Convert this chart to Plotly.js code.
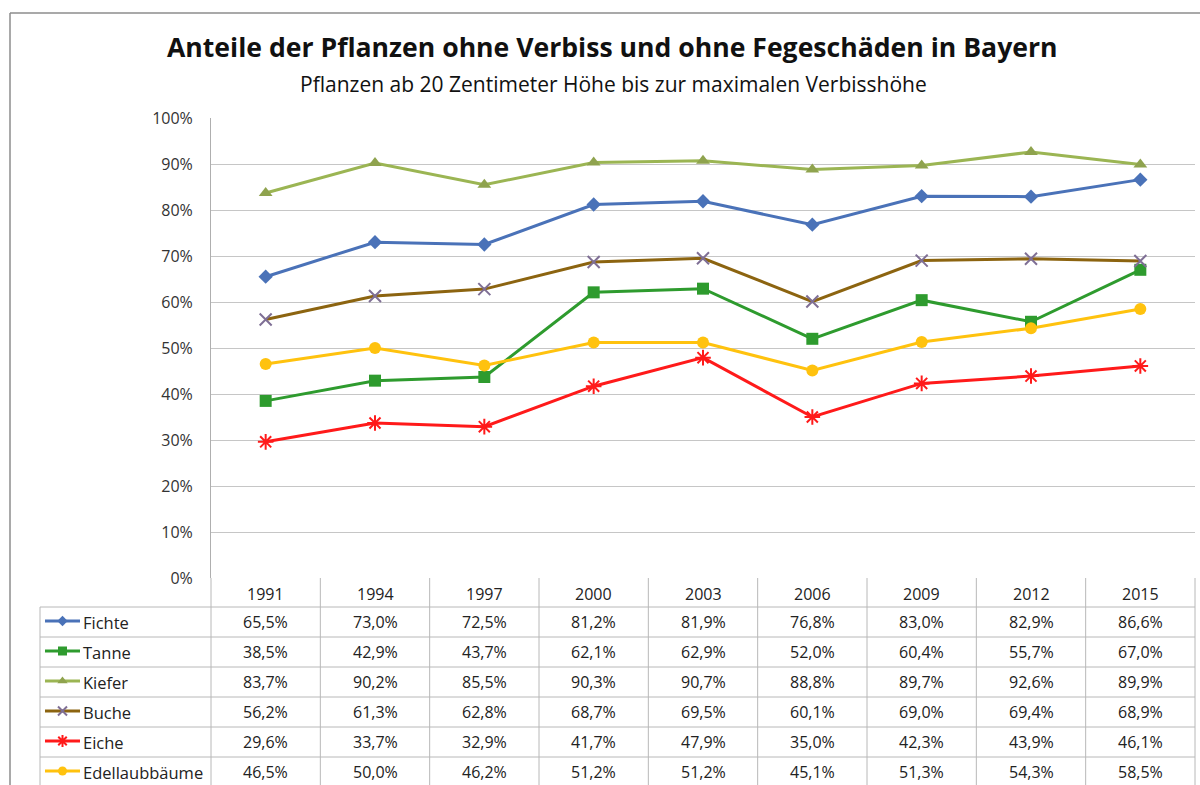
<!DOCTYPE html>
<html>
<head>
<meta charset="utf-8">
<script src="https://cdn.plot.ly/plotly-3.0.1.min.js"></script>
<style>html,body{margin:0;padding:0;background:#fff;}#chart{width:1200px;height:785px;}</style>
</head>
<body>
<div id="chart"></div>
<script>
const years = ['1991','1994','1997','2000','2003','2006','2009','2012','2015'];
const seriesNames = ['Fichte','Tanne','Kiefer','Buche','Eiche','Edellaubbäume'];
const fichte = [65.5, 73.0, 72.5, 81.2, 81.9, 76.8, 83.0, 82.9, 86.6];
const tanne  = [38.5, 42.9, 43.7, 62.1, 62.9, 52.0, 60.4, 55.7, 67.0];
const kiefer = [83.7, 90.2, 85.5, 90.3, 90.7, 88.8, 89.7, 92.6, 89.9];
const buche  = [56.2, 61.3, 62.8, 68.7, 69.5, 60.1, 69.0, 69.4, 68.9];
const eiche  = [29.6, 33.7, 32.9, 41.7, 47.9, 35.0, 42.3, 43.9, 46.1];
const edel   = [46.5, 50.0, 46.2, 51.2, 51.2, 45.1, 51.3, 54.3, 58.5];
const seriesValues = [fichte, tanne, kiefer, buche, eiche, edel];
const yTicks = [0,10,20,30,40,50,60,70,80,90,100];
const yTickLabels = ['0%','10%','20%','30%','40%','50%','60%','70%','80%','90%','100%'];

const styles = [
  {line:'#4A72B8', marker:'#4A72B8', symbol:'diamond', size:11},
  {line:'#2E9B2E', marker:'#2E9B2E', symbol:'square', size:12},
  {line:'#9BB553', marker:'#8FA34E', symbol:'triangle-up', size:12},
  {line:'#8C6410', marker:'#7F6F95', symbol:'x-thin-open', size:12, mline:2},
  {line:'#FF1A1A', marker:'#FF1A1A', symbol:'asterisk-open', size:13, mline:2},
  {line:'#FFC20E', marker:'#FFC20E', symbol:'circle', size:12}
];

// geometry (pixels)
const W = 1200, H = 785;
const plotL = 211, plotR = 1195, plotT = 118, plotB = 578;
const tableL = 40, rowH = 30, headerB = 607;
const colW = (plotR - plotL) / years.length;
const FONT = 'Open Sans';

const fmt = v => v.toFixed(1).replace('.', ',') + '%';

const traces = [];
seriesValues.forEach((vals, i) => {
  const s = styles[i];
  traces.push({
    type:'scatter', mode:'lines+markers', x: years, y: vals, name: seriesNames[i],
    xaxis:'x', yaxis:'y', cliponaxis:false,
    line:{color:s.line, width:3},
    marker:{symbol:s.symbol, size:s.size, color:s.marker, line:{color:s.marker, width:s.mline||0}},
    showlegend:false, hoverinfo:'skip'
  });
});

// legend samples in the table (full-page pixel axes)
seriesNames.forEach((n, i) => {
  const s = styles[i];
  const yc = headerB + rowH * i + rowH / 2 - 1;
  traces.push({
    type:'scatter', mode:'lines', x:[45, 80], y:[yc, yc], xaxis:'x2', yaxis:'y2',
    line:{color:s.line, width:3}, showlegend:false, hoverinfo:'skip'
  });
  traces.push({
    type:'scatter', mode:'markers', x:[62.5], y:[yc], xaxis:'x2', yaxis:'y2',
    marker:{symbol:s.symbol, size:s.size - 3, color:s.marker, line:{color:s.marker, width:s.mline||0}},
    showlegend:false, hoverinfo:'skip'
  });
});

const shapes = [];
const gridColor = '#C6C6C6';
const tableColor = '#B8B8B8';
// outer chart border
shapes.push({type:'line', xref:'x2', yref:'y2', x0:10, x1:1200, y0:13, y1:13, line:{color:'#8C8C8C', width:1.5}});
shapes.push({type:'line', xref:'x2', yref:'y2', x0:10, x1:10, y0:13, y1:785, line:{color:'#8C8C8C', width:1.5}});
// table horizontal lines
for (let r = 0; r <= seriesNames.length; r++) {
  const y = headerB + rowH * r;
  shapes.push({type:'line', xref:'x2', yref:'y2', x0:tableL, x1:plotR, y0:y, y1:y, line:{color:tableColor, width:1}});
}
// table vertical lines
shapes.push({type:'line', xref:'x2', yref:'y2', x0:tableL, x1:tableL, y0:headerB, y1:H, line:{color:tableColor, width:1}});
for (let c = 0; c <= years.length; c++) {
  const x = plotL + colW * c;
  shapes.push({type:'line', xref:'x2', yref:'y2', x0:x, x1:x, y0:plotB, y1:H, line:{color:tableColor, width:1}});
}

const annotations = [];
annotations.push({xref:'x2', yref:'y2', x:612, y:47, text:'<b>Anteile der Pflanzen ohne Verbiss und ohne Fegeschäden in Bayern</b>',
  showarrow:false, font:{family:FONT, size:26.6, color:'#111'}, xanchor:'center', yanchor:'middle'});
annotations.push({xref:'x2', yref:'y2', x:613, y:84, text:'Pflanzen ab 20 Zentimeter Höhe bis zur maximalen Verbisshöhe',
  showarrow:false, font:{family:FONT, size:21, color:'#111'}, xanchor:'center', yanchor:'middle'});
// header years (category index positions)
years.forEach((yr, c) => {
  annotations.push({xref:'x', yref:'y2', x:c, y:(plotB + headerB)/2 + 1, text:yr, showarrow:false,
    font:{family:FONT, size:16, color:'#222'}, xanchor:'center', yanchor:'middle'});
});
// row labels and values
seriesNames.forEach((n, i) => {
  const yc = headerB + rowH * i + rowH / 2;
  annotations.push({xref:'x2', yref:'y2', x:81, y:yc, text:n, showarrow:false,
    font:{family:FONT, size:16.5, color:'#222'}, xanchor:'left', yanchor:'middle'});
  seriesValues[i].forEach((v, c) => {
    annotations.push({xref:'x', yref:'y2', x:c, y:yc, text:fmt(v), showarrow:false,
      font:{family:FONT, size:16, color:'#222'}, xanchor:'center', yanchor:'middle'});
  });
});

const layout = {
  width:W, height:H, margin:{l:0, r:0, t:0, b:0},
  paper_bgcolor:'#ffffff', plot_bgcolor:'rgba(0,0,0,0)',
  showlegend:false,
  xaxis:{type:'category', domain:[plotL/W, plotR/W], range:[-0.5, years.length - 0.5],
    showticklabels:false, showgrid:false, zeroline:false, showline:false, ticks:'', fixedrange:true, anchor:'y'},
  yaxis:{domain:[(H-plotB)/H, (H-plotT)/H], range:[0,100], tickvals:yTicks, ticktext:yTickLabels,
    showgrid:true, gridcolor:gridColor, gridwidth:1, zeroline:false, showline:true, linecolor:'#AFAFAF', linewidth:1,
    ticks:'', ticklabelstandoff:14, tickfont:{family:FONT, size:16, color:'#333'}, fixedrange:true, anchor:'x'},
  xaxis2:{domain:[0,1], range:[0,W], visible:false, fixedrange:true, anchor:'y2'},
  yaxis2:{domain:[0,1], range:[H,0], visible:false, fixedrange:true, anchor:'x2'},
  shapes:shapes, annotations:annotations
};

Plotly.newPlot('chart', traces, layout, {staticPlot:true, displayModeBar:false});
</script>
</body>
</html>
